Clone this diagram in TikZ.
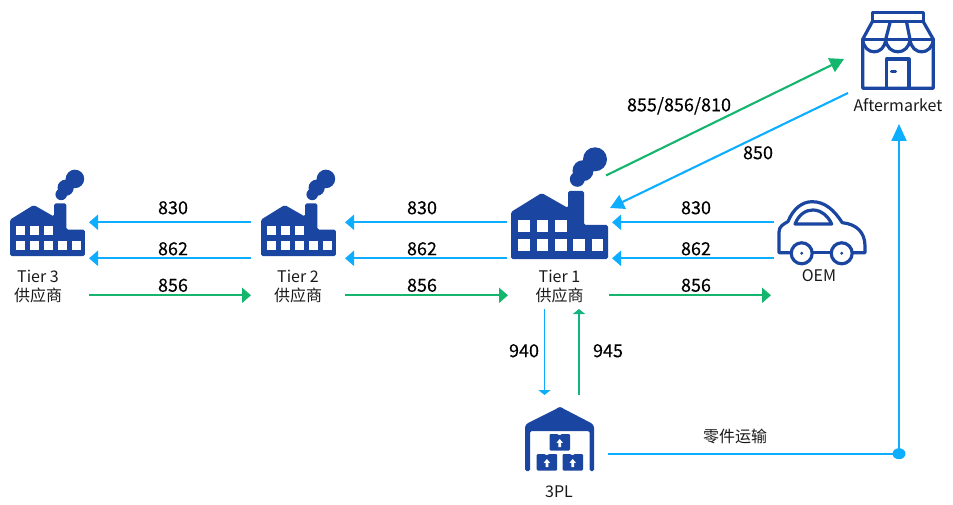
\documentclass[tikz,border=0pt]{standalone}
\usepackage{fontspec}
\setmainfont{Noto Sans CJK SC}
\newfontfamily\numfont[FakeBold=0.2]{Noto Sans CJK SC}
\usetikzlibrary{arrows.meta}
\definecolor{flowblue}{HTML}{0DADFF}
\definecolor{flowgreen}{HTML}{14B56C}
\definecolor{iconblue}{HTML}{1A45A0}
\newcommand{\fsize}[1]{\fontsize{#1}{#1}\selectfont}
\newcommand{\factoryicon}[3]{%
\begin{scope}[shift={(#1,#2)},scale=#3]
\fill[iconblue,rounded corners=1.6pt] (0,0) -- (0,-47) -- (30.7,-66) -- (57,-51) -- (57,-68) -- (73,-68) -- (73,-34) -- (97,-34) -- (97,0) -- cycle;
\fill[iconblue] (84,-99.7) circle[radius=12pt] (72,-88.3) circle[radius=10.5pt] (66.3,-79.7) circle[radius=7.5pt];
\foreach \wx in {7.3,25.7,44} {\fill[white] (\wx,-39) rectangle ++(11.7,12);}
\foreach \wx in {7.3,25.7,44,62,80.7} {\fill[white] (\wx,-20) rectangle ++(11.7,11.7);}
\end{scope}}
\newcommand{\boxicon}[2]{%
\begin{scope}[shift={(#1,#2)}]
\fill[iconblue,rounded corners=1.2pt] (0,0) -- (8.5,0) -- (10,2) -- (11.5,0) -- (20.5,0) -- (20.5,16.5) -- (0,16.5) -- cycle;
\fill[white] (10.2,5) -- (13.4,8.8) -- (11.6,8.8) -- (11.6,13) -- (8.8,13) -- (8.8,8.8) -- (7,8.8) -- cycle;
\end{scope}}
\tikzset{
  numlabel/.style={font=\numfont\fsize{18},inner sep=0pt,text=black},
  iconlabel/.style={font=\fsize{16},inner sep=0pt,text=black!90},
  blueflow/.style={draw=flowblue,line width=2.1pt,-{Triangle[length=9pt,width=15pt]}},
  greenflow/.style={draw=flowgreen,line width=2.1pt,-{Triangle[length=9pt,width=15pt]}},
  iconline/.style={draw=iconblue,line width=3.2pt,line join=round,line cap=round},
}
\begin{document}
\begin{tikzpicture}[x=1pt,y=-1pt]
\useasboundingbox (0,0) rectangle (953,505);
% factories
\factoryicon{10}{256}{0.773}
\factoryicon{261}{256}{0.773}
\factoryicon{511}{259}{1}
% store
\draw[iconline] (872.3,12.7) rectangle (923.3,21.7);
\draw[iconline] (872.3,21.7) -- (862.7,39.3) -- (862.7,88.3) -- (933.3,88.3) -- (933.3,39.3) -- (923.3,21.7);
\draw[iconline] (862.7,39.3) -- (933.3,39.3);
\draw[iconline] (890,22.7) -- (885.7,39.3) (906.7,22.7) -- (910,39.3);
\draw[iconline] (862.7,39.3) .. controls (864,56) and (884.5,56) .. (885.7,39.3) .. controls (887,56) and (908.7,56) .. (910,39.3) .. controls (911.3,56) and (932,56) .. (933.3,39.3);
\draw[iconline] (886.7,88.3) -- (886.7,59) -- (909,59) -- (909,88.3);
\draw[iconline] (891.5,71.7) -- (895.5,71.7);
% car
\draw[iconline] (790.5,252.7) -- (779,252.7) -- (779,232) .. controls (779,226) and (784,224) .. (788,221.5) .. controls (793,209) and (802,201.7) .. (812,201.7) .. controls (825,201.7) and (834,210) .. (842.3,222.7) .. controls (856,224) and (865,232) .. (865,246) -- (865,252.7) -- (853,252.7);
\draw[iconline] (813,252.7) -- (830.5,252.7);
\draw[iconline] (795,224) .. controls (799,214) and (806,210) .. (813,210) .. controls (821,210) and (828,216) .. (831.7,224) -- cycle;
\draw[iconline] (801.7,253.3) circle[radius=10.5pt] (841.7,253.3) circle[radius=10.5pt];
\fill[iconblue] (801.7,253.3) circle[radius=1.6pt] (841.7,253.3) circle[radius=1.6pt];
% warehouse
\fill[iconblue,rounded corners=1.5pt] (525,471) -- (525,426) -- (527,423.5) -- (557,408.5) .. controls (559,407) and (561,407) .. (563,408.5) -- (592,423.5) -- (594,426) -- (594,471) -- (589.5,471) -- (589.5,431) -- (530,431) -- (530,471) -- cycle;
\boxicon{549.5}{434}
\boxicon{536.7}{454}
\boxicon{562.5}{454}
% connector ends
\foreach \nm/\xa/\xb in {a/250.7/89, b/507/345, c/774/612} {
  \coordinate (\nm s) at (\xa,222.3); \coordinate (\nm e) at (\xb,222.3);
  \coordinate (\nm t) at (\xa,258.3); \coordinate (\nm f) at (\xb,258.3);
}
\coordinate (gas) at (89,295.3); \coordinate (gae) at (251,295.3);
\coordinate (gbs) at (345,295.3); \coordinate (gbe) at (508,295.3);
\coordinate (gcs) at (609,295.3); \coordinate (gce) at (771,295.3);
\coordinate (ds) at (606,175.5); \coordinate (de) at (844,59);
\coordinate (us) at (848,93); \coordinate (ue) at (610,208);
\coordinate (vas) at (544.5,309); \coordinate (vae) at (544.5,395);
\coordinate (vbs) at (579,395); \coordinate (vbe) at (579,309);
\coordinate (ws) at (608,453.7); \coordinate (wj) at (899,453.7); \coordinate (we) at (899,124);
\foreach \nm in {a,b,c} {
  \draw[blueflow] (\nm s) -- (\nm e);
  \draw[blueflow] (\nm t) -- (\nm f);
}
\draw[greenflow] (gas) -- (gae);
\draw[greenflow] (gbs) -- (gbe);
\draw[greenflow] (gcs) -- (gce);
\draw[greenflow,-{Triangle[length=14pt,width=15pt]}] (ds) -- (de);
\draw[blueflow,-{Triangle[length=14pt,width=15pt]}] (us) -- (ue);
\draw[draw=flowblue,line width=1.5pt,-{Triangle[length=5pt,width=12pt]}] (vas) -- (vae);
\draw[draw=flowgreen!85!flowblue,line width=1.5pt,-{Triangle[length=5pt,width=12pt]}] (vbs) -- (vbe);
\draw[flowblue,line width=2pt] (ws) -- (wj);
\draw[flowblue,line width=2.1pt,-{Triangle[length=17pt,width=15pt]}] (wj) -- (we);
\fill[flowblue] (wj) ellipse[x radius=6.5pt,y radius=5.5pt];
% labels
\foreach \lx [count=\li] in {173,422,696} {
  \node[numlabel] (n830\li) at (\lx,207.8) {830};
  \node[numlabel] (n862\li) at (\lx,248.8) {862};
  \node[numlabel] (n856\li) at (\lx,285.3) {856};
}
\node[numlabel] (lmulti) at (679,105.8) {855/856/810};
\node[numlabel] (l850) at (758,152.8) {850};
\node[numlabel] (l940) at (524,350.8) {940};
\node[numlabel] (l945) at (608,350.8) {945};
\node[iconlabel] (ltrans) at (735,436) {零件运输};
\node[iconlabel] (l3pl) at (559,492) {3PL};
\node[iconlabel] (loem) at (819,276) {OEM};
\node[iconlabel] (lafter) at (898,105) {Aftermarket};
\node[iconlabel] (t1) at (559.5,276) {Tier 1};
\node[iconlabel] (s1) at (559.5,295) {供应商};
\node[iconlabel] (t2) at (298,276) {Tier 2};
\node[iconlabel] (s2) at (298,295) {供应商};
\node[iconlabel] (t3) at (38,276) {Tier 3};
\node[iconlabel] (s3) at (38,295.5) {供应商};
\end{tikzpicture}
\end{document}
